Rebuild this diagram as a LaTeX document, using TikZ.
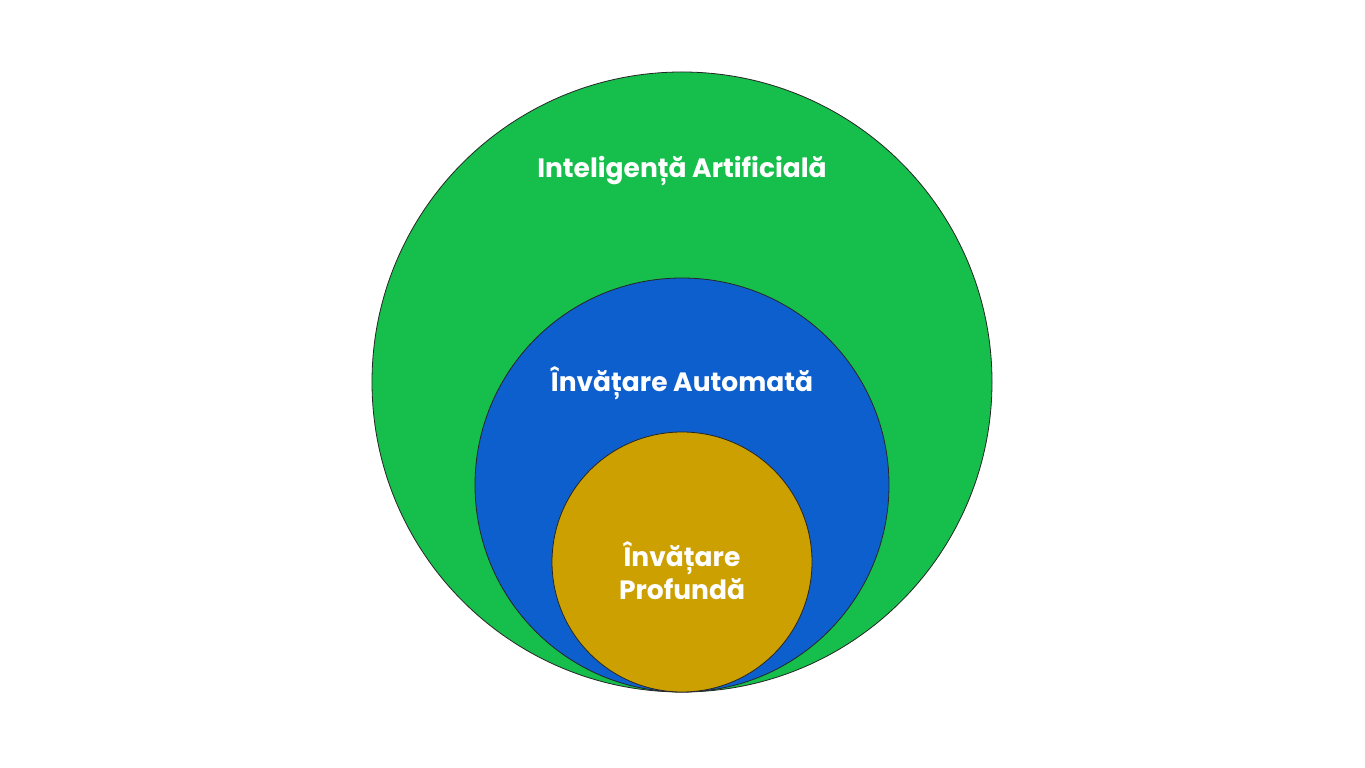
\documentclass[tikz,border=0pt]{standalone}
\usepackage{fontspec}
\setmainfont{Poppins}
\begin{document}
\begin{tikzpicture}[x=1pt,y=1pt,
  circ/.style={circle,draw=black!85,line width=0.8pt,inner sep=0pt},
  lab/.style={text=white,font=\bfseries\fontsize{26.5}{33}\selectfont,align=center}]
\useasboundingbox (0,0) rectangle (1365,768);
\fill[white] (0,0) rectangle (1365,768);
\node[circ,fill={rgb,255:red,22;green,190;blue,75},minimum size=620pt] (ai) at (682,386) {};
\node[circ,fill={rgb,255:red,13;green,95;blue,205},minimum size=414pt] (ml) at (682,283) {};
\node[circ,fill={rgb,255:red,204;green,160;blue,0},minimum size=260pt] (dl) at (682,206) {};
\node[lab] (tai) at (682,597) {Inteligență Artificială};
\node[lab] (tml) at (682,385) {Învățare Automată};
\node[lab] (tdl) at (682,197) {Învățare\\Profundă};
\end{tikzpicture}
\end{document}
